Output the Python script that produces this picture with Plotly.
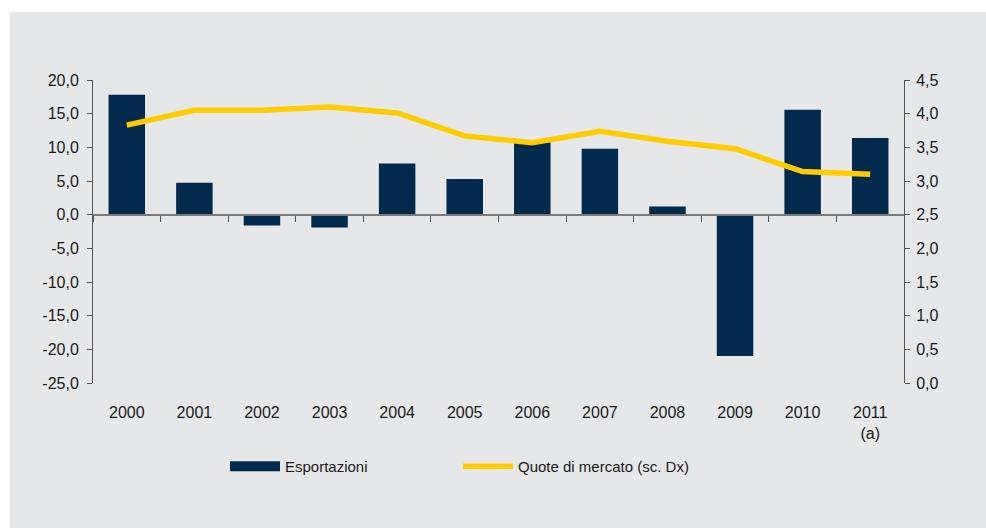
import plotly.graph_objects as go

years = ["2000", "2001", "2002", "2003", "2004", "2005", "2006", "2007", "2008", "2009", "2010", "2011"]
year_labels = ["2000", "2001", "2002", "2003", "2004", "2005", "2006", "2007", "2008", "2009", "2010", "2011<br>(a)"]
esportazioni = [17.8, 4.75, -1.6, -1.9, 7.6, 5.3, 10.7, 9.8, 1.2, -21.0, 15.6, 11.4]
quote_mercato = [3.83, 4.05, 4.05, 4.10, 4.01, 3.67, 3.57, 3.74, 3.59, 3.48, 3.14, 3.10]
left_ticks = [-25, -20, -15, -10, -5, 0, 5, 10, 15, 20]
right_ticks = [0, 0.5, 1, 1.5, 2, 2.5, 3, 3.5, 4, 4.5]


def fmt(v):
    return f"{v:.1f}".replace(".", ",")


BG = "#e6e7e9"
NAVY = "#022a4c"
YELLOW = "#ffcc00"
FONT = "Liberation Sans, Arial, sans-serif"

W, H = 986, 529
L, T = 93, 80
PR, PB = 904, 383
R, B = W - PR, H - PB
pw, ph = PR - L, PB - T


def px_x(p):
    return (p - L) / pw


def px_y(p):
    return (PB - p) / ph


xs = list(range(len(years)))

fig = go.Figure()
fig.add_trace(go.Bar(
    x=xs, y=esportazioni, name="Esportazioni",
    marker=dict(color=NAVY, line=dict(width=0)), width=0.54,
    xaxis="x", yaxis="y", showlegend=False,
))
# legend entry for the bars, drawn as a wide band like the original
fig.add_trace(go.Scatter(
    x=[None], y=[None], name="Esportazioni", mode="lines",
    line=dict(color=NAVY, width=10), xaxis="x", yaxis="y",
))
fig.add_trace(go.Scatter(
    x=xs, y=quote_mercato, name="Quote di mercato (sc. Dx)",
    mode="lines", line=dict(color=YELLOW, width=5.5),
    xaxis="x", yaxis="y2",
))
fig.add_trace(go.Scatter(x=[], y=[], xaxis="x2", yaxis="y", showlegend=False, hoverinfo="skip"))

fig.update_layout(
    width=W, height=H,
    margin=dict(l=L, r=R, t=T, b=B),
    paper_bgcolor="white",
    plot_bgcolor="rgba(0,0,0,0)",
    font=dict(family=FONT, size=16, color="#1a1a1a"),
    bargap=0.46,
    showlegend=True,
    legend=dict(
        orientation="h", x=px_x(225), y=px_y(450), xanchor="left", yanchor="top",
        font=dict(size=15, color="#1a1a1a"), bgcolor="rgba(0,0,0,0)",
        entrywidth=168, itemwidth=50, traceorder="normal",
    ),
    xaxis=dict(
        range=[-0.5, 11.5], tickmode="array",
        tickvals=xs, ticktext=year_labels,
        showline=False, showgrid=False, zeroline=False,
        ticks="outside", ticklen=15, tickcolor="rgba(0,0,0,0)",
        tickfont=dict(size=16),
    ),
    xaxis2=dict(
        range=[-0.5, 11.5], overlaying="x", anchor="free",
        position=25 / 45, side="bottom",
        tickmode="array", tickvals=[i - 0.5 for i in range(len(years) + 1)],
        showticklabels=False, showline=True, linecolor="#7a7a7a", linewidth=2,
        ticks="outside", ticklen=6, tickcolor="#555555", tickwidth=1,
        showgrid=False, zeroline=False,
    ),
    yaxis=dict(
        range=[-25, 20], tickmode="array", tickvals=left_ticks,
        ticktext=[fmt(v) for v in left_ticks],
        showgrid=False, zeroline=False,
        showline=True, linecolor="#555555", linewidth=1,
        ticks="outside", ticklen=5, tickcolor="#555555",
        ticklabelstandoff=5,
        tickfont=dict(size=16),
    ),
    yaxis2=dict(
        range=[0, 4.5], tickmode="array", tickvals=right_ticks,
        ticktext=[fmt(v) for v in right_ticks],
        overlaying="y", side="right", anchor="x",
        showgrid=False, zeroline=False,
        showline=True, linecolor="#555555", linewidth=1,
        ticks="outside", ticklen=5, tickcolor="#555555",
        ticklabelstandoff=3,
        tickfont=dict(size=16),
    ),
    shapes=[dict(
        type="rect", xref="paper", yref="paper", layer="below",
        x0=px_x(10), x1=px_x(990), y0=px_y(528), y1=px_y(12),
        fillcolor=BG, line=dict(width=0),
    )],
)

fig.write_html(
    "out.html",
    config={"displayModeBar": False},
    post_script="document.body.style.margin='0px';",
)
